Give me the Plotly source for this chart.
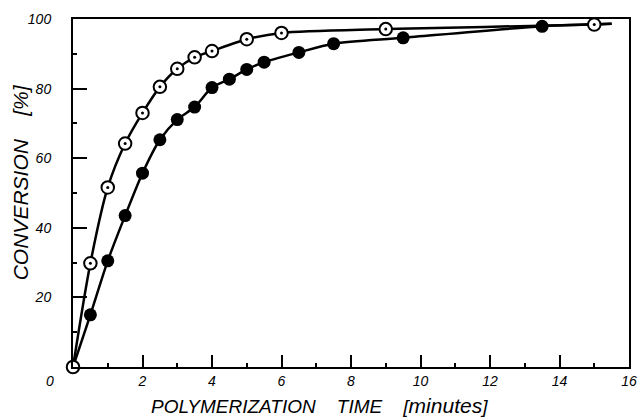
import plotly.graph_objects as go

# Open circles (series A)
open_x = [0, 0.5, 1.0, 1.5, 2.0, 2.5, 3.0, 3.5, 4.0, 5.0, 6.0, 9.0, 15.0]
open_y = [0, 29.8, 51.6, 64.2, 73.0, 80.5, 85.7, 89.0, 90.8, 94.2, 96.0, 97.1, 98.4]

# Filled circles (series B)
fill_x = [0.5, 1.0, 1.5, 2.0, 2.5, 3.0, 3.5, 4.0, 4.5, 5.0, 5.5, 6.5, 7.5, 9.5, 13.5]
fill_y = [15.0, 30.5, 43.5, 55.7, 65.3, 71.1, 74.7, 80.3, 82.7, 85.5, 87.6, 90.4, 92.9, 94.6, 97.9]

# curve end point (both curves run to it)
curve_end_x = 15.5
curve_end_y = 98.6

x_ticks = [2, 4, 6, 8, 10, 12, 14, 16]
y_ticks = [20, 40, 60, 80, 100]

FONT = "Liberation Sans"
NB = "\u00a0"

fig = go.Figure()

# smooth curves
fig.add_trace(go.Scatter(
    x=open_x + [curve_end_x], y=open_y + [curve_end_y],
    mode="lines", line=dict(color="black", width=2.5, shape="spline", smoothing=0.8),
    hoverinfo="skip"))
fig.add_trace(go.Scatter(
    x=[0] + fill_x + [curve_end_x], y=[0] + fill_y + [curve_end_y],
    mode="lines", line=dict(color="black", width=2.5, shape="spline", smoothing=0.8),
    hoverinfo="skip"))

# markers
fig.add_trace(go.Scatter(
    x=fill_x, y=fill_y, mode="markers", cliponaxis=False,
    marker=dict(symbol="circle", size=13, color="black", line=dict(color="black", width=0))))
fig.add_trace(go.Scatter(
    x=open_x, y=open_y, mode="markers", cliponaxis=False,
    marker=dict(symbol="circle", size=12.5, color="white", line=dict(color="black", width=2))))
fig.add_trace(go.Scatter(
    x=open_x[1:], y=open_y[1:], mode="markers", cliponaxis=False,
    marker=dict(symbol="circle", size=3, color="black", line=dict(width=0))))

fig.update_layout(
    width=643, height=420,
    margin=dict(l=73, r=6, t=19, b=53),
    paper_bgcolor="white", plot_bgcolor="white",
    showlegend=False,
    font=dict(family=FONT, color="black"),
)

fig.update_xaxes(
    range=[0, 16], tickvals=x_ticks, ticktext=[str(v) for v in x_ticks],
    showgrid=False, zeroline=False,
    showline=True, linecolor="black", linewidth=2, mirror=True,
    ticks="inside", ticklen=12, tickwidth=1.5, tickcolor="black",
    minor=dict(ticks="inside", ticklen=4, tickwidth=1.5, tickcolor="black", dtick=1, tick0=0),
    tickfont=dict(family=FONT, size=14, style="italic"),
)
fig.update_yaxes(
    range=[0, 100], tickvals=y_ticks, ticktext=[str(v) for v in y_ticks],
    showgrid=False, zeroline=False,
    showline=True, linecolor="black", linewidth=2, mirror=True,
    ticks="inside", ticklen=14, tickwidth=1.5, tickcolor="black",
    minor=dict(ticks="inside", ticklen=4, tickwidth=1.5, tickcolor="black", dtick=10, tick0=0),
    tickfont=dict(family=FONT, size=14, style="italic"),
    ticklabelstandoff=17,
)

# shared origin label
fig.add_annotation(xref="paper", yref="paper", x=-0.041, y=-0.04,
                   xanchor="center", yanchor="middle", text="0", showarrow=False,
                   font=dict(family=FONT, size=14, style="italic"))

fig.add_annotation(
    x=0.443, y=-0.112, xref="paper", yref="paper", xanchor="center", yanchor="middle",
    text="POLYMERIZATION" + NB * 4 + "TIME" + NB * 4 + "[<span style='font-size:21px'>minutes</span>]",
    showarrow=False, font=dict(family=FONT, size=19, style="italic"))
fig.add_annotation(
    x=-0.094, y=0.53, xref="paper", yref="paper", xanchor="center", yanchor="middle",
    text="CONVERSION" + NB * 4 + "[%]", textangle=-90,
    showarrow=False, font=dict(family=FONT, size=21, style="italic"))

fig.write_html("out.html", config={"displayModeBar": False},
               post_script="document.body.style.margin='0';document.body.style.padding='0';")
